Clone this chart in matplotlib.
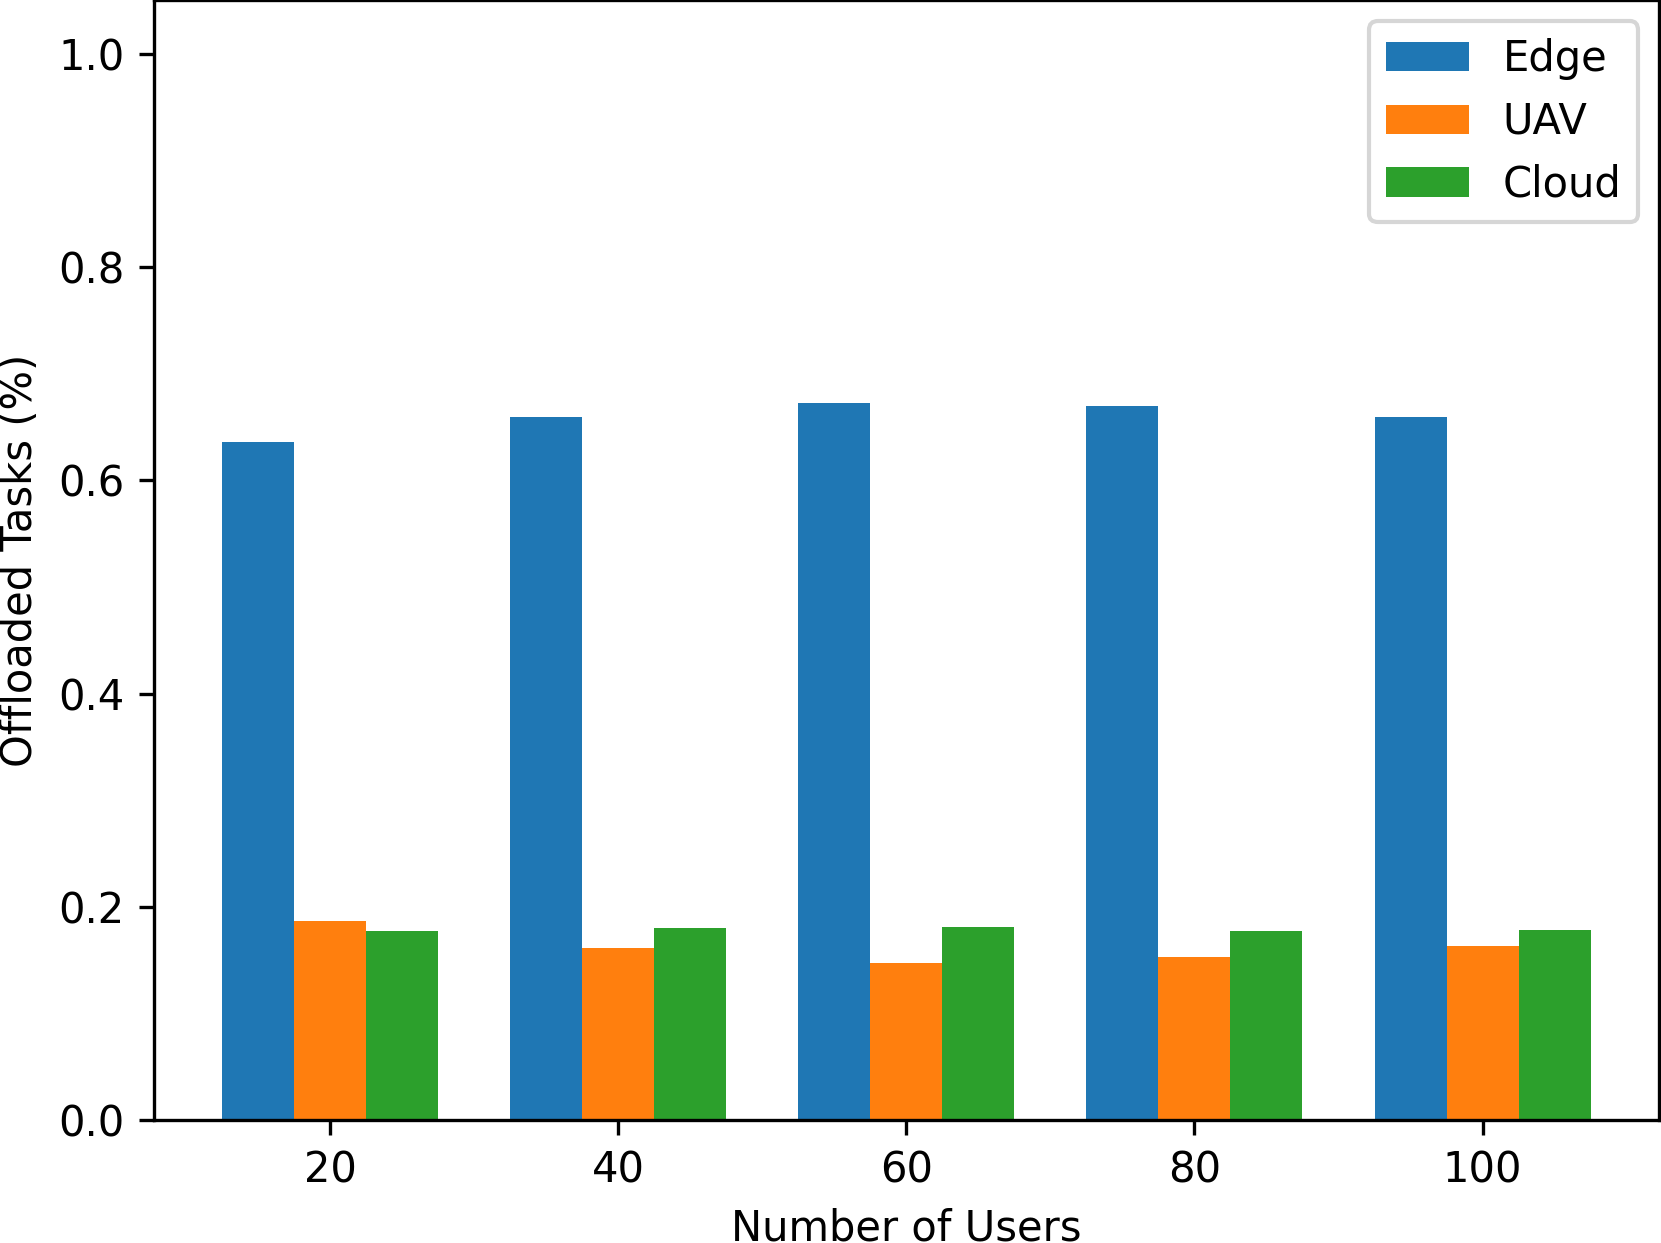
import matplotlib

matplotlib.use("Agg")

import matplotlib.pyplot as plt
import numpy as np

users = [20, 40, 60, 80, 100]
edge = [0.636, 0.659, 0.672, 0.670, 0.659]
uav = [0.187, 0.161, 0.147, 0.153, 0.163]
cloud = [0.177, 0.180, 0.181, 0.177, 0.178]

series = [("Edge", edge), ("UAV", uav), ("Cloud", cloud)]
width = 0.25

fig = plt.figure(figsize=(1661 / 300, 1243 / 300), dpi=300)
# the reference is a crop: axes touch the top/right edges, x label is cut
ax = fig.add_axes([0.0925, 0.0989, 0.9063, 0.9008])

x = np.arange(len(users))
for i, (name, values) in enumerate(series):
    ax.bar(x + (i - 1) * width, values, width, label=name)

ax.set_xticks(x)
ax.set_xticklabels([str(u) for u in users])
ax.set_ylim(0, 1.05)
ax.set_xlabel("Number of Users")
ax.set_ylabel("Offloaded Tasks (%)")
ax.legend(loc="upper right")

fig.savefig("out.png", dpi=300)
